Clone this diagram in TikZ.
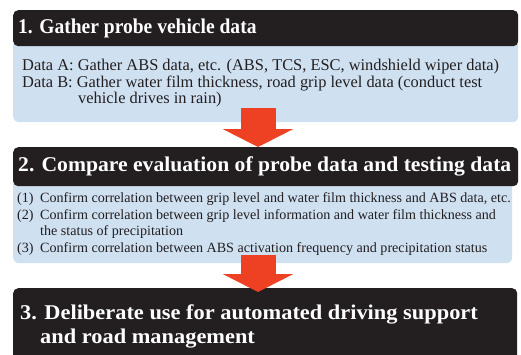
\documentclass[tikz,border=0pt]{standalone}
\usepackage{fontspec}
\usepackage{graphicx}
\setmainfont{Liberation Serif}
\usetikzlibrary{arrows.meta}
\definecolor{hdrdark}{HTML}{231F20}
\definecolor{panelblue}{HTML}{CFE0F1}
\definecolor{flowred}{HTML}{EE4123}
\tikzset{
  hdrbox/.style={fill=hdrdark, draw=none, rounded corners=5pt, anchor=north west, inner sep=0pt},
  panel/.style={fill=panelblue, draw=none, rounded corners=6pt, anchor=north west, inner sep=0pt},
  hdrtext/.style={text=white, anchor=base west, inner sep=0pt, font=\fontsize{21}{25}\selectfont\bfseries},
  bodyA/.style={text=hdrdark, anchor=base west, inner sep=0pt, font=\fontsize{16.4}{19}\selectfont},
  bodyB/.style={text=hdrdark, anchor=base west, inner sep=0pt, font=\fontsize{14.1}{17}\selectfont},
  flow/.style={draw=flowred, line width=35pt, -{Triangle[width=70pt,length=18pt]}},
}
\begin{document}
\begin{tikzpicture}[x=1pt,y=-1pt]
\useasboundingbox[fill=white] (0,0) rectangle (521,354);

% step 1
\node[panel, minimum width=505pt, minimum height=82pt] (p1) at (13,40) {};
\node[hdrbox, minimum width=505pt, minimum height=36pt] (h1) at (13,10) {};
\node[hdrtext] (h1t) at (18,33.5) {\scalebox{0.93}[1]{1. Gather probe vehicle data}};
\node[bodyA] (p1a) at (22,70.5) {Data A: Gather ABS data, etc. (ABS, TCS, ESC, windshield wiper data)};
\node[bodyA] (p1b) at (22,87) {Data B: Gather water film thickness, road grip level data (conduct test};
\node[bodyA] (p1c) at (78,103.5) {vehicle drives in rain)};

% step 2
\node[panel, minimum width=499pt, minimum height=85pt] (p2) at (13,178) {};
\node[hdrbox, minimum width=505pt, minimum height=39pt] (h2) at (13,147) {};
\node[hdrtext] (h2t) at (18,171) {\scalebox{1.03}[1]{2. Compare evaluation of probe data and testing data}};
\node[bodyB] (p2a) at (17,202.5) {\makebox[23pt][l]{(1)}Confirm correlation between grip level and water film thickness and ABS data, etc.};
\node[bodyB] (p2b) at (17,219) {\makebox[23pt][l]{(2)}Confirm correlation between grip level information and water film thickness and};
\node[bodyB] (p2c) at (40,235.5) {the status of precipitation};
\node[bodyB] (p2d) at (17,252) {\makebox[23pt][l]{(3)}Confirm correlation between ABS activation frequency and precipitation status};

% step 3
\node[hdrbox, minimum width=504pt, minimum height=80pt] (h3) at (13,288) {};
\node[hdrtext] (h3t) at (20,319) {\scalebox{1.066}[1]{3. Deliberate use for automated driving support}};
\node[hdrtext] (h3u) at (40,343) {\scalebox{1.066}[1]{and road management}};

% arrows between steps
\coordinate (a1s) at (258,108);
\coordinate (a2s) at (258,255);
\coordinate (a2e) at (258,292);
\draw[flow] (a1s) -- (a1s |- h2.north);
\draw[flow] (a2s) -- (a2e);
\end{tikzpicture}
\end{document}
